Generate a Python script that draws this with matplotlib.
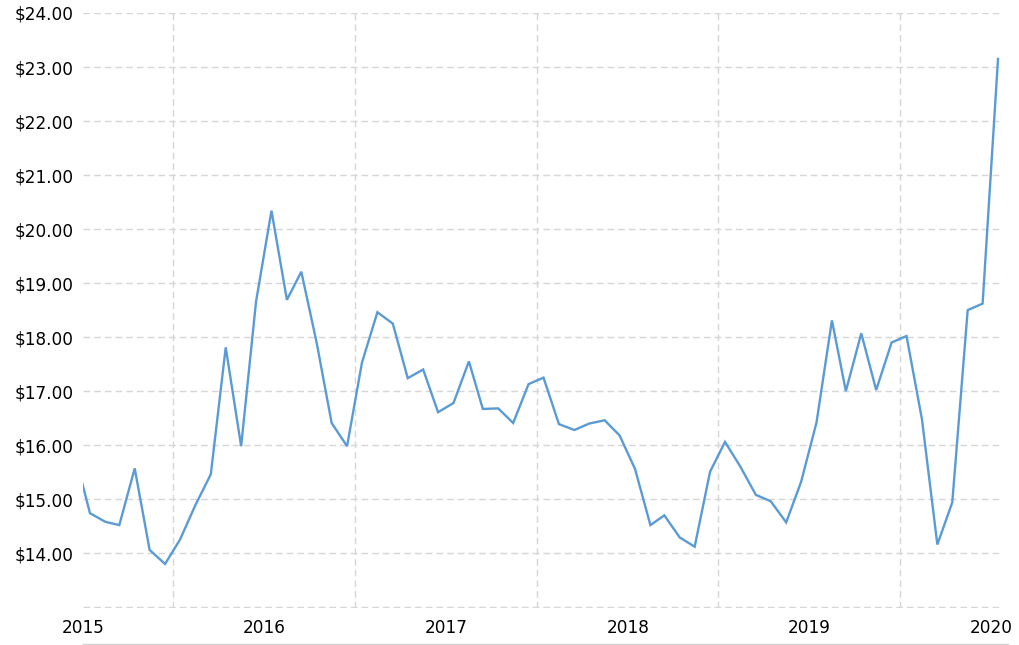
import pandas as pd
import matplotlib
matplotlib.use("Agg")
import matplotlib.pyplot as plt
import matplotlib.dates as mdates
from matplotlib.lines import Line2D
from matplotlib.ticker import FixedLocator, FuncFormatter

# ==========================================
# DATA (monthly, Dec 2014 - Jan 2020)
# ==========================================
START_MONTH = "2014-12-01"
END_MONTH = "2020-01-01"
prices = [
    15.85,                                                                    # Dec 2014
    14.74, 14.58, 14.52, 15.57, 14.06, 13.80, 14.25, 14.89, 15.46, 17.81, 15.98, 18.66,  # 2015
    20.34, 18.69, 19.21, 17.89, 16.41, 15.98, 17.53, 18.46, 18.25, 17.24, 17.40, 16.61,  # 2016
    16.78, 17.55, 16.67, 16.68, 16.41, 17.13, 17.25, 16.39, 16.28, 16.40, 16.46, 16.18,  # 2017
    15.56, 14.52, 14.70, 14.29, 14.12, 15.51, 16.06, 15.60, 15.08, 14.96, 14.57, 15.32,  # 2018
    16.42, 18.31, 17.00, 18.07, 17.02, 17.90, 18.02, 16.48, 14.16, 14.94, 18.50, 18.62,  # 2019
    23.15,                                                                    # Jan 2020
]
y_ticks = list(range(13, 25))
x_min, x_max = "2015-01-01", "2020-01-25"

# ==========================================
# STYLE
# ==========================================
LINE_COLOR = "#5b9bd5"
GRID_COLOR = "#d6d6d6"
plt.rcParams["font.family"] = ["DejaVu Sans"]
plt.rcParams["font.size"] = 12.2

dates = pd.date_range(START_MONTH, END_MONTH, freq="MS") + pd.Timedelta(days=14)

fig = plt.figure(figsize=(10.19, 6.45), dpi=100)
ax = fig.add_axes([83 / 1019, 37 / 645, 920 / 1019, 595 / 645])

ax.plot(dates, prices, color=LINE_COLOR, linewidth=1.7, solid_joinstyle="miter")

ax.set_xlim(pd.Timestamp(x_min), pd.Timestamp(x_max))
# small margin below so the unlabeled $13 gridline is not clipped in half
ax.set_ylim(y_ticks[0] - 0.015, y_ticks[-1])

# y axis: dollar labels, bottom gridline left unlabeled
ax.yaxis.set_major_locator(FixedLocator(y_ticks))
ax.yaxis.set_major_formatter(FuncFormatter(lambda v, p: "" if v == y_ticks[0] else f"${v:.2f}"))

# x axis: year labels at Jan 1, vertical gridlines at July 1
ax.xaxis.set_major_locator(mdates.YearLocator())
ax.xaxis.set_major_formatter(mdates.DateFormatter("%Y"))
ax.xaxis.set_minor_locator(mdates.MonthLocator(bymonth=7))

ax.grid(False)
ax.yaxis.grid(True, which="major", color=GRID_COLOR, linewidth=1.0, dashes=(4.8, 2.9))
ax.xaxis.grid(True, which="minor", color=GRID_COLOR, linewidth=1.0, dashes=(4.8, 2.9))
ax.set_axisbelow(True)

ax.tick_params(axis="both", which="both", length=0, colors="#000000")
ax.tick_params(axis="y", pad=7)
ax.tick_params(axis="x", pad=8)

for s in ax.spines.values():
    s.set_visible(False)

# thin solid line under the year labels
fig.add_artist(Line2D([83 / 1019, 1008 / 1019], [1.5 / 645, 1.5 / 645],
                      transform=fig.transFigure, color="#d0d0d0", linewidth=1.0))

fig.savefig("out.png", dpi=100)
